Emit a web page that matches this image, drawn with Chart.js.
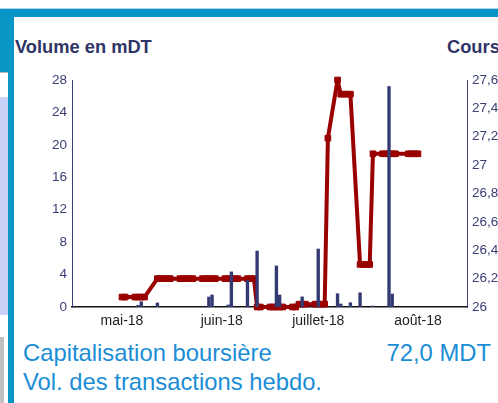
<!DOCTYPE html>
<html>
<head>
<meta charset="utf-8">
<script src="https://cdn.jsdelivr.net/npm/chart.js@4/dist/chart.umd.min.js"></script>
<style>
  html, body { margin: 0; padding: 0; background: #fff; }
  body { width: 498px; height: 403px; position: relative; overflow: hidden; font-family: "Liberation Sans", Arial, sans-serif; }
  .blk { position: absolute; }
  .txt { position: absolute; white-space: nowrap; }
  #c { position: absolute; left: 0; top: 0; }
</style>
</head>
<body>
<div class="blk" style="left:0;top:8px;width:498px;height:1px;background:#a9d6ea"></div>
<div class="blk" style="left:0;top:9px;width:498px;height:8px;background:#0996c6"></div>
<div class="blk" style="left:0;top:9px;width:14px;height:63px;background:#0996c6"></div>
<div class="blk" style="left:8px;top:9px;width:6px;height:394px;background:#0996c6"></div>
<div class="blk" style="left:0;top:72px;width:8px;height:1px;background:#b8b8b8"></div>
<div class="blk" style="left:0;top:97px;width:8px;height:218px;background:#c9d1f8"></div>
<div class="blk" style="left:0;top:337px;width:4px;height:66px;background:#c0c0c0"></div>

<div class="txt" style="left:15px;top:38px;font-size:18.3px;line-height:18px;font-weight:bold;color:#2f3566">Volume en mDT</div>
<div class="txt" style="left:447px;top:38px;font-size:18.3px;line-height:18px;font-weight:bold;color:#2f3566">Cours</div>

<div class="txt" style="left:23px;top:341px;font-size:23.8px;line-height:23px;color:#1a8dd6">Capitalisation boursière</div>
<div class="txt" style="right:7px;top:341px;font-size:23.8px;line-height:23px;color:#1a8dd6">72,0 MDT</div>
<div class="txt" style="left:23px;top:370px;font-size:23.8px;line-height:23px;color:#1a8dd6">Vol. des transactions hebdo.</div>

<canvas id="c" width="498" height="403"></canvas>
<script>
// x values: days counted from 1 May 2018
const monthTickDays = [0, 31, 61, 92];
const monthLabels = ['mai-18', 'juin-18', 'juillet-18', 'août-18'];

// Volume en mDT (bars, left axis)
const volumeDays   = [5, 6, 11, 27, 28, 33, 34, 39, 42, 48, 49, 56, 61, 67, 68, 71, 74, 78, 83, 84];
const volumeValues = [0.2, 0.65, 0.5, 1.23, 1.48, 0.25, 4.33, 3.3, 6.9, 5.06, 1.48, 1.25, 7.15, 1.64, 0.37, 0.53, 1.75, 0.12, 27.2, 1.6];

// Cours (line, right axis)
const coursDays = [0, 1, 4, 5, 6, 7,
  11, 12, 13, 14, 15, 18, 19, 20, 21, 22, 25, 26, 27, 28, 29, 32, 33, 34, 35, 36, 39, 40, 41,
  42, 43, 46, 47, 48, 49, 50, 53, 54,
  55, 56, 57, 60, 61, 62, 63,
  64, 67, 68, 69, 70, 71, 74, 75, 76, 77,
  78, 81, 82, 83, 84, 85, 89, 90, 91, 92];
const coursValues = [26.07, 26.07, 26.07, 26.07, 26.07, 26.07,
  26.2, 26.2, 26.2, 26.2, 26.2, 26.2, 26.2, 26.2, 26.2, 26.2, 26.2, 26.2, 26.2, 26.2, 26.2, 26.2, 26.2, 26.2, 26.2, 26.2, 26.2, 26.2, 26.2,
  26.0, 26.0, 26.0, 26.0, 26.0, 26.0, 26.0, 26.0, 26.0,
  26.02, 26.02, 26.02, 26.02, 26.02, 26.02, 26.02,
  27.19, 27.6, 27.5, 27.5, 27.5, 27.5, 26.3, 26.3, 26.3, 26.3,
  27.08, 27.08, 27.08, 27.08, 27.08, 27.08, 27.08, 27.08, 27.08, 27.08];

const xMin = -15.54, xMax = 107.24;
const volTicks = { min: 0, max: 28, step: 4 };
const coursTicks = { min: 26, max: 27.6, step: 0.2 };

const volData = volumeDays.map((d, i) => ({ x: d, y: volumeValues[i] }));
const coursData = coursDays.map((d, i) => ({ x: d, y: coursValues[i] }));

const navy = '#3a4074';
const fontFam = '"Liberation Sans", Arial, sans-serif';

new Chart(document.getElementById('c'), {
  data: {
    datasets: [
      {
        type: 'bar', label: 'Volume', data: volData, yAxisID: 'y', xAxisID: 'x',
        backgroundColor: '#333a72', borderWidth: 0, barThickness: 2.7, order: 0
      },
      {
        type: 'line', label: 'Cours', data: coursData, yAxisID: 'y1', xAxisID: 'x',
        borderColor: '#990000', backgroundColor: '#990000', borderWidth: 4, tension: 0,
        borderJoinStyle: 'bevel',
        pointStyle: 'rect', pointRadius: 4, pointBorderWidth: 1, pointBackgroundColor: '#990000',
        pointBorderColor: '#990000', order: 1, clip: false
      }
    ]
  },
  options: {
    responsive: false, animation: false, devicePixelRatio: 1,
    layout: { padding: { top: 80, left: 0, right: 0, bottom: 0 } },
    plugins: { legend: { display: false }, tooltip: { enabled: false } },
    scales: {
      x: {
        type: 'linear', min: xMin, max: xMax, offset: false,
        grid: { display: false, drawTicks: false, tickLength: 0 },
        border: { display: true, color: '#111', width: 1.5 },
        afterBuildTicks: (s) => { s.ticks = monthTickDays.map(v => ({ value: v })); },
        afterFit: (s) => { s.height = 96; },
        ticks: {
          autoSkip: false, maxRotation: 0, padding: 6, color: '#222',
          font: { family: fontFam, size: 14 },
          callback: (v) => { const i = monthTickDays.indexOf(v); return i >= 0 ? monthLabels[i] : ''; }
        }
      },
      y: {
        type: 'linear', position: 'left', min: volTicks.min, max: volTicks.max,
        grid: { display: false, drawTicks: false, tickLength: 0 },
        border: { display: true, color: navy, width: 1 },
        afterFit: (s) => { s.width = 72; },
        ticks: { stepSize: volTicks.step, padding: 5, color: navy, font: { family: fontFam, size: 13.5 } }
      },
      y1: {
        type: 'linear', position: 'right', min: coursTicks.min, max: coursTicks.max,
        grid: { display: false, drawTicks: false, tickLength: 0 },
        border: { display: true, color: navy, width: 1 },
        afterFit: (s) => { s.width = 31; },
        ticks: {
          stepSize: coursTicks.step, padding: 5, color: navy, font: { family: fontFam, size: 13.5 },
          callback: (v) => String(Number(v.toFixed(1))).replace('.', ',')
        }
      }
    }
  }
});
</script>
</body>
</html>
